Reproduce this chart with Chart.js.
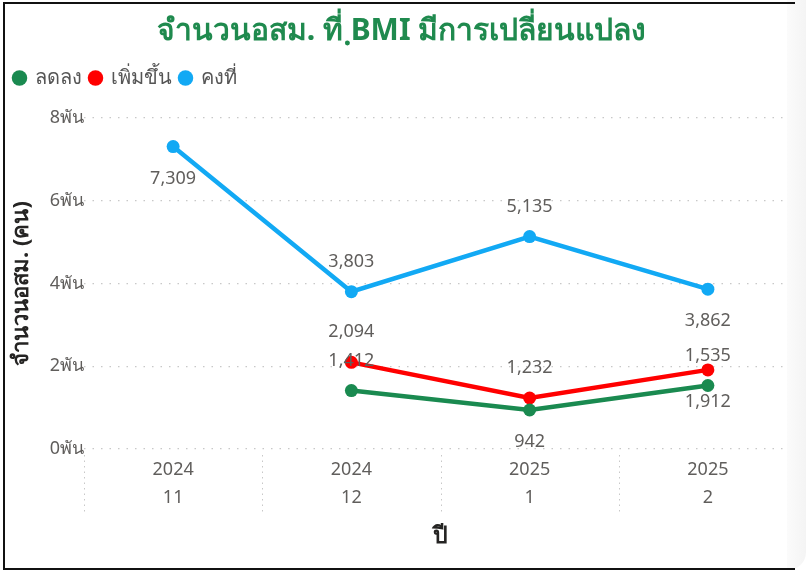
<!DOCTYPE html>
<html>
<head>
<meta charset="utf-8">
<script src="https://cdn.jsdelivr.net/npm/chart.js@4.4.1/dist/chart.umd.min.js"></script>
<style>
  html, body { margin: 0; padding: 0; background: #fff; }
  #wrap { position: relative; width: 806px; height: 570px; overflow: hidden; }
  #frame {
    position: absolute; left: 3px; top: 2px; width: 790px; height: 564px;
    border-left: 2px solid #111; border-top: 2px solid #111; border-bottom: 2px solid #111;
    pointer-events: none;
  }
  #shade {
    position: absolute; left: 787px; top: 0; width: 19px; height: 570px;
    background: linear-gradient(to right, #fbfbfb, #f4f4f4);
    border-bottom-right-radius: 18px;
    pointer-events: none;
  }
</style>
</head>
<body>
<div id="wrap">
  <canvas id="myChart" width="806" height="570"></canvas>
  <div id="shade"></div>
  <div id="frame"></div>
</div>
<script>
var years = ['2024', '2024', '2025', '2025'];
var months = ['11', '12', '1', '2'];
var seriesNames = ['ลดลง', 'เพิ่มขึ้น', 'คงที่'];
var decreased = [null, 1412, 942, 1535];
var increased = [null, 2094, 1232, 1912];
var unchanged = [7309, 3803, 5135, 3862];
var yTicks = [0, 2000, 4000, 6000, 8000];

var labelColor = '#605E5C';
var thaiFont = '"Noto Sans", "Open Sans", sans-serif';

// value labels, placed above or below their own point
var valueLabels = {
  id: 'valueLabels',
  afterDatasetsDraw: function (chart) {
    var ctx = chart.ctx;
    ctx.save();
    ctx.font = '18px ' + thaiFont;
    ctx.fillStyle = labelColor;
    ctx.textAlign = 'center';
    ctx.textBaseline = 'middle';
    chart.data.datasets.forEach(function (ds, di) {
      var meta = chart.getDatasetMeta(di);
      meta.data.forEach(function (pt, i) {
        var v = ds.data[i];
        if (v == null) return;
        var dy = ds.labelPos[i] === 'below' ? 32 : -30;
        ctx.fillText(v.toLocaleString('en-US'), pt.x, pt.y + dy);
      });
    });
    ctx.restore();
  }
};

// dotted separators between the x categories
var xSeparators = {
  id: 'xSeparators',
  afterDraw: function (chart) {
    var xs = chart.scales.x;
    var ctx = chart.ctx;
    var top = chart.chartArea.bottom + 6;
    ctx.save();
    ctx.strokeStyle = '#c8c8c8';
    ctx.lineWidth = 1;
    ctx.setLineDash([1.5, 4]);
    for (var i = 0; i <= years.length; i++) {
      var x = Math.round(xs.getPixelForValue(i - 0.5)) + 0.5;
      ctx.beginPath();
      ctx.moveTo(x, top);
      ctx.lineTo(x, top + 60);
      ctx.stroke();
    }
    ctx.restore();
  }
};

var ctx = document.getElementById('myChart').getContext('2d');
var myChart = new Chart(ctx, {
  type: 'line',
  data: {
    labels: years.map(function (y, i) { return [y, months[i]]; }),
    datasets: [{
      label: seriesNames[0],
      data: decreased,
      xAxisID: 'x',
      yAxisID: 'y',
      borderColor: '#1A8A50',
      backgroundColor: '#1A8A50',
      labelPos: ['above', 'above', 'below', 'above']
    }, {
      label: seriesNames[1],
      data: increased,
      xAxisID: 'x',
      yAxisID: 'y',
      borderColor: '#FF0000',
      backgroundColor: '#FF0000',
      labelPos: ['above', 'above', 'above', 'below']
    }, {
      label: seriesNames[2],
      data: unchanged,
      xAxisID: 'x',
      yAxisID: 'y',
      borderColor: '#12A9F4',
      backgroundColor: '#12A9F4',
      labelPos: ['below', 'above', 'above', 'below']
    }]
  },
  options: {
    responsive: false,
    animation: false,
    layout: { padding: { left: 6, right: 9, top: 0, bottom: 20 } },
    elements: {
      line: { borderWidth: 4.5, tension: 0 },
      point: { radius: 6.5, borderWidth: 0, hoverRadius: 6.5 }
    },
    plugins: {
      title: {
        display: true,
        text: 'จำนวนอสม. ที่ ฺBMI มีการเปลี่ยนแปลง',
        color: '#1F8A4E',
        font: { size: 30, weight: 'bold', family: thaiFont },
        padding: { top: 13, bottom: 11 }
      },
      legend: {
        position: 'top',
        align: 'start',
        labels: {
          usePointStyle: true,
          pointStyle: 'circle',
          boxWidth: 11,
          boxHeight: 11,
          padding: 8,
          color: '#555555',
          font: { size: 20, family: thaiFont }
        }
      },
      tooltip: { enabled: false }
    },
    scales: {
      spacer: {
        type: 'category',
        position: 'top',
        labels: [''],
        grid: { display: false },
        border: { display: false },
        ticks: { display: false },
        afterFit: function (s) { s.height = 20; }
      },
      x: {
        offset: true,
        grid: { display: false },
        border: { display: false },
        ticks: {
          color: labelColor,
          padding: -2,
          maxRotation: 0,
          font: { size: 18, family: thaiFont, lineHeight: 1.6 }
        },
        title: {
          display: true,
          text: 'ปี',
          color: '#252423',
          font: { size: 23, weight: 'bold', family: thaiFont },
          padding: { top: 0, bottom: 0 }
        },
        afterFit: function (s) { s.height = 101; }
      },
      y: {
        min: 0,
        max: 8000,
        afterBuildTicks: function (s) {
          s.ticks = yTicks.map(function (v) { return { value: v }; });
        },
        grid: {
          color: '#c8c8c8',
          lineWidth: 1.2,
          drawTicks: false
        },
        border: { display: false, dash: [1.5, 7] },
        ticks: {
          color: labelColor,
          padding: 0,
          font: { size: 18, family: thaiFont },
          callback: function (v) { return (v / 1000) + 'พัน'; }
        },
        title: {
          display: true,
          text: 'จำนวนอสม. (คน)',
          color: '#252423',
          font: { size: 22, weight: 'bold', family: thaiFont },
          padding: { top: 3, bottom: 0 }
        },
        afterFit: function (s) { s.width = 78; }
      }
    }
  },
  plugins: [valueLabels, xSeparators]
});
</script>
</body>
</html>
